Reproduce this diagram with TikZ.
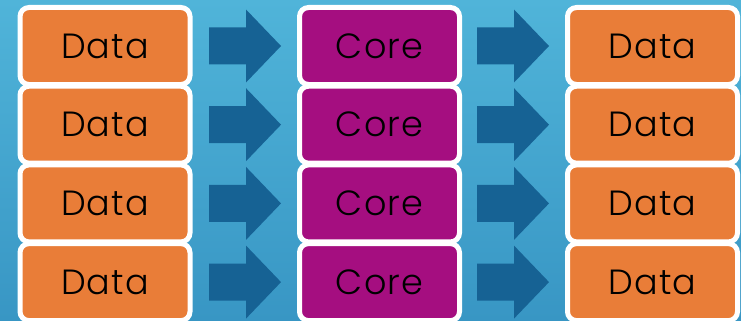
\documentclass[tikz,border=0pt]{standalone}
\usepackage{fontspec}
\setmainfont{Poppins Light}[LetterSpace=3]
\definecolor{bgtop}{RGB}{80,180,217}
\definecolor{bgbot}{RGB}{56,150,196}
\definecolor{dataorange}{RGB}{233,125,56}
\definecolor{coremag}{RGB}{165,14,128}
\definecolor{arrowblue}{RGB}{22,98,148}
\tikzset{
  blk/.style={draw=white, line width=5pt, rounded corners=9pt, minimum height=77pt, inner sep=0pt, font=\fontsize{35}{38}\selectfont, text=black},
  databox/.style={blk, fill=dataorange, minimum width=170pt},
  corebox/.style={blk, fill=coremag, minimum width=160pt},
}
\newcommand{\blockarrow}[2]{% x-start, y-center
  \fill[arrowblue] (#1,#2+18.5) -- (#1+37,#2+18.5) -- (#1+37,#2+36.5) -- (#1+72,#2) -- (#1+37,#2-36.5) -- (#1+37,#2-18.5) -- (#1,#2-18.5) -- cycle;}
\begin{document}
\begin{tikzpicture}[x=1pt,y=1pt]
\shade[top color=bgtop, bottom color=bgbot] (0,0) rectangle (741,-321);
\useasboundingbox (0,0) rectangle (741,-321);
\foreach \i/\y in {1/46,2/124.7,3/203.4,4/282.1}{
  \node[databox] (in\i) at (105,-\y) {Data};
  \node[corebox] (core\i) at (379.5,-\y) {Core};
  \node[databox] (out\i) at (652.5,-\y) {Data};
  \blockarrow{209}{-\y}
  \blockarrow{477}{-\y}
}
\end{tikzpicture}
\end{document}
